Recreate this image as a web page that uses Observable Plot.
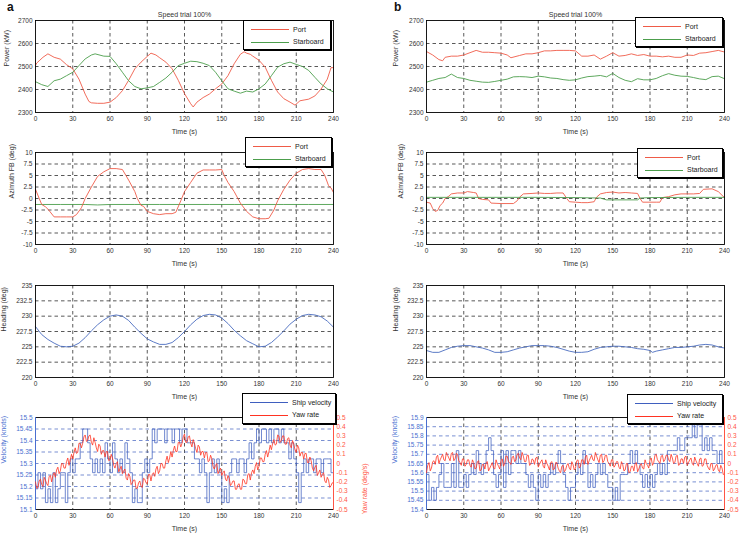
<!DOCTYPE html>
<html><head><meta charset="utf-8">
<script src="https://cdn.jsdelivr.net/npm/d3@7"></script>
<script src="https://cdn.jsdelivr.net/npm/@observablehq/plot@0.6"></script>
<style>
html,body{margin:0;padding:0;background:#fff;overflow:hidden}
#root{position:relative;width:744px;height:539px;overflow:hidden;font-family:"Liberation Sans",Arial,sans-serif;background:#fff}
.leg{position:absolute;border:1px solid #000;box-shadow:1px 1px 0 #000;background:#fff;box-sizing:border-box}
.panelTag{position:absolute;font-weight:bold;font-size:12px;color:#111}
</style></head>
<body><div id="root"></div>
<script>
// ---------- tick values ----------
const timeTicks = [0,30,60,90,120,150,180,210,240];
const powerTicks = [2300,2400,2500,2600,2700];
const azTicks = [-10,-7.5,-5,-2.5,0,2.5,5,7.5,10];
const headTicks = [220,222.5,225,227.5,230,232.5,235];
const velTicksA = [15.1,15.15,15.2,15.25,15.3,15.35,15.4,15.45,15.5];
const velTicksB = [15.4,15.45,15.5,15.55,15.6,15.65,15.7,15.75,15.8,15.85,15.9];
const yawTicks = [-0.5,-0.4,-0.3,-0.2,-0.1,0,0.1,0.2,0.3,0.4,0.5];
const seriesLabels = ["Port","Starboard"];
const velLabels = ["Ship velocity","Yaw rate"];
const titleText = "Speed trial 100%";

// ---------- panel a : power (kW) [time, value] ----------
const powerPortA = [[0,2505],[1,2515],[3,2525],[6,2540],[10,2555],[15,2540],[20,2532],[25,2508],[30,2490],[35,2445],[40,2380],[43,2348],[45,2342],[50,2340],[55,2340],[60,2345],[65,2365],[70,2395],[75,2440],[80,2490],[85,2519],[90,2544],[93,2558],[97,2550],[100,2538],[105,2519],[110,2490],[115,2440],[120,2382],[125,2338],[127,2324],[130,2345],[135,2365],[140,2380],[145,2403],[150,2424],[155,2460],[160,2512],[165,2553],[168,2564],[170,2558],[173,2553],[175,2545],[180,2527],[185,2497],[190,2440],[195,2389],[200,2360],[205,2345],[209,2332],[213,2351],[217,2355],[220,2358],[225,2372],[230,2402],[235,2445],[238,2495],[240,2495]];
const powerStarA = [[0,2434],[5,2421],[10,2413],[15,2438],[20,2445],[25,2460],[30,2475],[35,2504],[40,2533],[45,2550],[48,2555],[55,2545],[60,2544],[65,2512],[70,2475],[75,2438],[80,2413],[85,2403],[90,2407],[95,2413],[100,2431],[105,2450],[110,2475],[115,2504],[120,2514],[125,2523],[130,2521],[135,2514],[140,2504],[145,2475],[150,2438],[155,2403],[160,2393],[165,2384],[170,2393],[175,2389],[180,2403],[185,2424],[190,2460],[195,2497],[200,2512],[205,2519],[210,2509],[215,2500],[220,2483],[225,2453],[230,2424],[235,2403],[240,2389]];
// ---------- panel b : power (kW) ----------
const powerPortB = [[0,2565],[5,2550],[10,2530],[13,2525],[15,2540],[20,2545],[25,2545],[30,2550],[35,2560],[40,2570],[45,2562],[50,2562],[55,2560],[60,2558],[65,2550],[68,2538],[75,2548],[80,2555],[85,2555],[90,2560],[95,2568],[100,2568],[105,2570],[110,2570],[115,2570],[120,2568],[125,2545],[130,2545],[135,2550],[140,2532],[145,2545],[150,2560],[155,2545],[160,2548],[165,2555],[170,2548],[175,2552],[180,2545],[185,2545],[190,2542],[195,2545],[200,2540],[205,2540],[210,2550],[215,2548],[220,2558],[225,2560],[230,2565],[235,2570],[240,2563]];
const powerStarB = [[0,2432],[5,2440],[10,2448],[15,2452],[20,2467],[25,2452],[30,2448],[35,2440],[40,2436],[45,2432],[50,2431],[55,2435],[60,2440],[65,2445],[70,2455],[75,2456],[80,2455],[85,2452],[90,2458],[95,2455],[100,2450],[105,2448],[110,2443],[115,2440],[120,2442],[125,2450],[130,2456],[135,2458],[140,2461],[145,2455],[150,2470],[155,2452],[160,2440],[165,2434],[170,2447],[175,2442],[180,2442],[185,2448],[190,2460],[195,2469],[200,2462],[205,2458],[210,2457],[215,2452],[220,2446],[225,2443],[230,2456],[235,2458],[240,2447]];

// ---------- azimuth FB (deg) ----------
const azPortA = [[0,2],[3,0],[5,-1.3],[8,-1.8],[10,-2.3],[15,-4],[20,-4],[25,-4],[30,-4],[33,-3.5],[37,-2],[40,0],[45,2.5],[50,4.8],[55,5.8],[60,6.5],[65,6.5],[70,6.3],[75,4],[80,1.5],[82,0],[85,-1.5],[87,-1.7],[90,-2.8],[95,-3.3],[100,-3.5],[105,-3.3],[110,-3.3],[113,-3],[117,-0.5],[120,1.5],[125,3.5],[130,5.5],[135,6.2],[140,6.2],[145,6.2],[150,6.3],[152,5],[155,3.5],[160,1.5],[165,-1],[170,-2.8],[175,-4],[180,-4.4],[185,-4.4],[188,-4.3],[192,-2.5],[195,-0.5],[200,2],[205,4],[210,5.5],[215,6.3],[220,6.5],[225,6.3],[230,6.3],[233,5],[236,2.8],[238,2.3],[240,1.3]];
const azStarA = [[0,-1.3],[20,-1.3],[40,-1.3],[50,-1.4],[60,-1.3],[80,-1.3],[100,-1.3],[120,-1.3],[140,-1.3],[160,-1.3],[180,-1.3],[200,-1.3],[220,-1.3],[240,-1.3]];
const azPortB = [[0,-0.8],[3,-1],[5,-2.2],[7,-2.8],[9,-2.6],[11,-1.5],[13,-1],[15,0],[18,0.5],[20,1],[25,1.2],[30,1.2],[33,1.5],[38,1.3],[40,1.2],[42,0],[45,-0.2],[50,-0.3],[52,-1],[60,-1.1],[70,-1.1],[73,-0.5],[75,0.3],[78,1],[85,1.1],[90,1.2],[95,1.1],[100,1.1],[105,1.2],[110,1.2],[113,0],[115,-0.7],[120,-0.8],[125,-0.9],[130,-0.9],[135,-0.7],[137,0.3],[140,1],[145,1.3],[150,1.4],[155,1.2],[160,1.3],[165,1.2],[170,1.1],[172,0],[174,-0.8],[180,-0.8],[185,-0.8],[188,-0.8],[190,0.2],[195,0.4],[200,0.8],[205,1],[210,1],[215,1],[220,1.1],[223,2],[230,2.1],[235,1.5],[238,0.7],[240,0.2]];
const azStarB = [[0,0.25],[30,0.25],[60,0.25],[90,0.25],[120,0.2],[140,0.1],[145,-0.3],[170,-0.3],[172,0.1],[180,0.2],[210,0.25],[240,0.25]];

// ---------- heading (deg) ----------
const headA = [[0,228.3],[5,227],[10,226.2],[15,225.6],[20,225.1],[25,225],[30,225.1],[35,225.6],[40,226.5],[45,227.6],[50,228.6],[55,229.4],[60,230],[65,230.2],[70,230],[75,229.3],[80,228.2],[85,227.2],[90,226.3],[95,225.8],[100,225.4],[105,225.4],[110,225.7],[115,226.5],[120,227.5],[125,228.6],[130,229.5],[135,230.1],[140,230.3],[145,230.2],[150,229.7],[155,228.8],[160,227.7],[165,226.8],[170,226],[175,225.5],[180,225],[185,225.1],[190,225.7],[195,226.6],[200,227.6],[205,228.7],[210,229.5],[215,230.1],[220,230.3],[225,230.2],[230,229.9],[235,229.2],[240,228.2]];
const headB = [[0,224.4],[5,224.1],[10,224.1],[15,224.5],[20,224.9],[25,225.1],[30,225.2],[35,225.2],[40,225],[45,224.8],[50,224.5],[55,224.1],[60,224.1],[65,224.2],[70,224.5],[75,224.8],[80,225],[85,225.2],[90,225.2],[95,225.2],[100,225.1],[105,224.9],[110,224.6],[115,224.3],[120,224.1],[125,224.1],[130,224.2],[135,224.6],[140,224.9],[145,225],[150,225.1],[155,225.1],[160,225],[165,224.9],[170,224.7],[175,224.6],[180,224.4],[182,224.1],[185,224.3],[190,224.5],[195,224.7],[200,224.9],[205,224.9],[210,225],[215,225.1],[220,225.3],[225,225.4],[230,225.3],[235,225],[240,224.8]];

// ---------- velocity (knots), sampled every 2 s ----------
const velA = [15.19,15.26,15.19,15.26,15.13,15.19,15.13,15.26,15.13,15.19,
15.26,15.26,15.13,15.26,15.32,15.26,15.32,15.32,15.39,15.45,
15.45,15.39,15.32,15.26,15.32,15.26,15.32,15.26,15.39,15.32,
15.26,15.39,15.32,15.26,15.32,15.26,15.39,15.32,15.26,15.13,
15.19,15.13,15.13,15.26,15.32,15.26,15.32,15.45,15.39,15.45,
15.45,15.45,15.39,15.45,15.45,15.39,15.45,15.45,15.39,15.45,
15.45,15.39,15.39,15.39,15.32,15.32,15.26,15.32,15.26,15.13,
15.26,15.32,15.26,15.32,15.26,15.13,15.19,15.13,15.26,15.32,
15.32,15.26,15.32,15.32,15.26,15.32,15.39,15.32,15.39,15.45,
15.39,15.45,15.45,15.39,15.45,15.39,15.45,15.45,15.39,15.45,
15.39,15.39,15.32,15.39,15.32,15.26,15.13,15.26,15.32,15.26,
15.32,15.32,15.26,15.32,15.32,15.26,15.32,15.32,15.32,15.26,
15.13];
const velB = [15.59,15.45,15.52,15.45,15.52,15.59,15.65,15.52,15.52,15.52,
15.65,15.52,15.72,15.52,15.52,15.59,15.52,15.59,15.65,15.59,
15.72,15.65,15.59,15.65,15.72,15.79,15.72,15.59,15.52,15.59,
15.72,15.52,15.72,15.59,15.72,15.72,15.65,15.72,15.65,15.65,
15.59,15.52,15.59,15.52,15.45,15.59,15.52,15.59,15.52,15.59,
15.65,15.59,15.65,15.72,15.65,15.59,15.52,15.45,15.52,15.52,
15.59,15.65,15.59,15.72,15.65,15.52,15.59,15.52,15.59,15.65,
15.59,15.65,15.59,15.52,15.52,15.45,15.52,15.45,15.59,15.59,
15.59,15.65,15.72,15.65,15.72,15.65,15.59,15.52,15.59,15.52,
15.59,15.52,15.59,15.65,15.59,15.65,15.59,15.72,15.72,15.72,
15.72,15.79,15.72,15.72,15.79,15.79,15.79,15.86,15.79,15.86,
15.86,15.72,15.79,15.72,15.79,15.72,15.72,15.65,15.72,15.65,
15.79];
// ---------- yaw rate (deg/s), sampled every 1 s ----------
const yawA = [-0.20,-0.27,-0.26,-0.19,-0.17,-0.23,-0.25,-0.15,-0.18,-0.22,-0.24,-0.14,-0.13,-0.20,-0.13,-0.10,-0.15,-0.07,-0.04,-0.11,
-0.08,0.00,0.00,-0.05,-0.05,0.02,0.06,-0.02,0.04,0.10,0.05,0.12,0.17,0.11,0.12,0.22,0.22,0.17,0.22,0.29,
0.31,0.24,0.25,0.30,0.31,0.23,0.20,0.28,0.23,0.17,0.13,0.21,0.19,0.10,0.14,0.14,0.07,0.13,0.13,0.03,
0.04,0.10,0.06,-0.02,-0.05,0.00,0.02,-0.09,-0.06,-0.03,-0.11,-0.08,-0.06,-0.16,-0.18,-0.11,-0.14,-0.23,-0.21,-0.18,
-0.18,-0.27,-0.27,-0.21,-0.19,-0.25,-0.26,-0.16,-0.17,-0.21,-0.22,-0.12,-0.12,-0.19,-0.12,-0.10,-0.14,-0.06,-0.03,-0.11,
-0.08,0.00,0.00,-0.05,-0.05,0.03,0.08,0.01,0.06,0.13,0.07,0.14,0.19,0.13,0.13,0.23,0.23,0.18,0.22,0.29,
0.32,0.23,0.23,0.29,0.30,0.22,0.18,0.26,0.22,0.16,0.12,0.20,0.18,0.09,0.13,0.13,0.06,0.12,0.12,0.02,
0.03,0.09,0.05,-0.03,-0.06,-0.02,0.00,-0.11,-0.08,-0.05,-0.13,-0.10,-0.08,-0.17,-0.19,-0.13,-0.16,-0.24,-0.22,-0.19,
-0.19,-0.28,-0.28,-0.23,-0.22,-0.28,-0.28,-0.17,-0.18,-0.22,-0.22,-0.12,-0.11,-0.18,-0.10,-0.07,-0.11,-0.03,0.01,-0.07,
-0.03,0.06,0.06,0.02,0.02,0.10,0.14,0.07,0.13,0.20,0.15,0.22,0.26,0.20,0.21,0.31,0.30,0.23,0.25,0.30,
0.30,0.21,0.21,0.27,0.28,0.20,0.17,0.25,0.21,0.15,0.12,0.20,0.17,0.08,0.12,0.12,0.05,0.11,0.11,0.01,
0.01,0.07,0.03,-0.05,-0.08,-0.04,-0.02,-0.13,-0.10,-0.07,-0.15,-0.12,-0.10,-0.19,-0.21,-0.15,-0.18,-0.26,-0.24,-0.21,
-0.21];
const yawB = [-0.10,-0.02,0.01,-0.08,-0.05,0.02,0.03,-0.01,0.07,0.09,0.00,0.04,0.07,0.10,0.04,0.03,0.12,0.09,0.06,0.03,
0.11,0.12,0.03,0.05,0.11,0.10,0.03,0.01,-0.02,0.05,0.05,-0.03,-0.01,0.04,0.04,-0.02,-0.04,0.04,0.01,-0.06,
-0.05,0.02,0.03,-0.08,-0.07,-0.01,-0.01,-0.06,0.01,0.02,-0.08,-0.05,-0.02,0.01,-0.05,-0.06,0.04,0.00,-0.03,-0.06,
0.03,0.05,-0.03,0.00,0.08,0.08,0.02,0.01,-0.01,0.07,0.08,0.02,0.04,0.10,0.11,0.06,0.04,0.12,0.08,0.02,
0.02,0.09,0.09,-0.02,-0.01,0.05,0.04,-0.01,0.06,0.07,-0.04,-0.01,0.02,0.04,-0.03,-0.05,0.04,0.00,-0.03,-0.07,
0.01,0.02,-0.07,-0.06,0.01,0.01,-0.05,-0.08,-0.10,-0.03,-0.02,-0.09,-0.07,-0.02,0.00,-0.05,-0.07,0.02,-0.01,-0.07,
-0.05,0.03,0.04,-0.05,-0.03,0.04,0.04,-0.01,0.07,0.09,-0.01,0.03,0.06,0.09,0.04,0.03,0.12,0.08,0.04,0.01,
0.09,0.10,0.01,0.03,0.09,0.09,0.02,0.00,-0.03,0.04,0.04,-0.04,-0.02,0.02,0.02,-0.04,-0.06,0.02,-0.01,-0.08,
-0.07,0.00,0.00,-0.10,-0.09,-0.03,-0.03,-0.08,0.00,0.01,-0.09,-0.06,-0.02,0.00,-0.05,-0.06,0.04,0.00,-0.02,-0.05,
0.04,0.06,-0.02,0.01,0.09,0.10,0.04,0.02,0.00,0.08,0.09,0.02,0.04,0.09,0.09,0.04,0.02,0.10,0.06,0.00,
0.01,0.08,0.09,-0.02,-0.01,0.05,0.05,0.00,0.07,0.08,-0.02,0.01,0.04,0.06,0.00,-0.02,0.07,0.03,0.00,-0.03,
0.05,0.06,-0.03,-0.02,0.05,0.05,-0.02,-0.05,-0.07,0.00,0.00,-0.08,-0.06,-0.02,-0.01,-0.07,-0.09,-0.02,-0.05,-0.12,
-0.11];
const velTimes = d3.range(0, 241, 2);
const yawTimes = d3.range(0, 241, 1);

// ---------- styling ----------
const FONT = "Liberation Sans, Arial, sans-serif";
const C = {port:"#ef5b48", star:"#4c9e4c", head:"#4a6cc0", vel:"#3f5fbf", yaw:"#ff3322",
           velAxis:"#4a6fd0", yawAxis:"#ff5544", ink:"#333", grid:"#111"};
const fmt = d => `${d}`;
const root = document.getElementById("root");
const W = 372, H = 134, MT = 10, MB = 32;
const colA = {left:0, mL:35, mR:39};
const colB = {left:372, mL:54, mR:20};
const rowTop = [10, 142, 275, 407];

function mount(node, left, top) {
  node.style.position = "absolute";
  node.style.left = left + "px";
  node.style.top = top + "px";
  root.appendChild(node);
}
const pairs = arr => arr.map(([t, v]) => ({t, v}));
const zipT = (times, vals) => vals.map((v, i) => ({t: times[i], v}));

function panel(col, row, o) {
  const chart = Plot.plot({
    width: W, height: H, marginTop: MT, marginBottom: MB, marginLeft: col.mL, marginRight: col.mR,
    style: {background: "transparent", fontFamily: FONT, overflow: "visible"},
    x: {domain: [0, 240], axis: null},
    y: {domain: [o.yTicks[0], o.yTicks[o.yTicks.length - 1]], axis: null},
    marks: [
      Plot.ruleX(timeTicks.slice(1, -1), {stroke: C.grid, strokeWidth: 0.7, strokeDasharray: "3.5,3"}),
      Plot.ruleY(o.yTicks.slice(1, -1), {stroke: o.hgrid || C.grid, strokeWidth: 0.7, strokeDasharray: "3.5,3"}),
      ...o.lines,
      Plot.frame({stroke: "#000", strokeWidth: 0.9}),
      ...(o.leftSpine ? [Plot.frame({anchor: "left", stroke: o.leftSpine, strokeWidth: 1})] : []),
      Plot.axisX(timeTicks, {tickSize: 0, tickPadding: 4, fontSize: 6.5, color: C.ink, label: null, tickFormat: fmt}),
      Plot.axisY(o.yTicks, {tickSize: 0, tickPadding: 3, fontSize: 6.5, color: o.yColor || C.ink, label: null, tickFormat: fmt}),
      Plot.text(["Time (s)"], {frameAnchor: "bottom", dy: 21, fontSize: 7, fill: C.ink}),
      Plot.text([o.yLabel], {frameAnchor: "left", dx: o.yLabelDx, rotate: -90, fontSize: 7, fill: o.yColor || C.ink}),
      ...(o.title ? [Plot.text([o.title], {frameAnchor: "top", dy: -8, fontSize: 7, fill: C.ink})] : [])
    ]
  });
  mount(chart, col.left, rowTop[row]);
}

function yawOverlay(col, row, data, showLabel) {
  const chart = Plot.plot({
    width: W, height: H, marginTop: MT, marginBottom: MB, marginLeft: col.mL, marginRight: col.mR,
    style: {background: "transparent", fontFamily: FONT, overflow: "visible"},
    x: {domain: [0, 240], axis: null},
    y: {domain: [-0.5, 0.5], axis: null},
    marks: [
      Plot.line(zipT(yawTimes, data), {x: "t", y: "v", stroke: C.yaw, strokeWidth: 0.8}),
      Plot.frame({anchor: "right", stroke: C.yawAxis, strokeWidth: 1}),
      Plot.axisY(yawTicks, {anchor: "right", tickSize: 0, tickPadding: 3, fontSize: 6.5, color: C.yawAxis, label: null, tickFormat: fmt}),
      ...(showLabel ? [Plot.text(["Yaw rate (deg/s)"], {frameAnchor: "right", dx: 31, rotate: -90, fontSize: 7, fill: C.yawAxis})] : [])
    ]
  });
  mount(chart, col.left, rowTop[row]);
}

function legend(left, top, w, h, labels, colors) {
  const box = document.createElement("div");
  box.className = "leg";
  Object.assign(box.style, {left: left + "px", top: top + "px", width: w + "px", height: h + "px"});
  labels.forEach((lab, i) => {
    const y = 8 + i * 12.5;
    const ln = document.createElement("div");
    Object.assign(ln.style, {position: "absolute", left: "7px", width: "38px", top: y + "px", height: "1px", background: colors[i]});
    const tx = document.createElement("div");
    Object.assign(tx.style, {position: "absolute", left: "49px", top: (y - 4.5) + "px", fontSize: "7px", lineHeight: "10px", color: "#222", whiteSpace: "nowrap"});
    tx.textContent = lab;
    box.appendChild(ln); box.appendChild(tx);
  });
  root.appendChild(box);
}

// ---------- row 1 : power ----------
panel(colA, 0, {yTicks: powerTicks, yLabel: "Power (kW)", yLabelDx: -29, title: titleText, lines: [
  Plot.line(pairs(powerPortA), {x: "t", y: "v", stroke: C.port, strokeWidth: 0.9}),
  Plot.line(pairs(powerStarA), {x: "t", y: "v", stroke: C.star, strokeWidth: 0.9})]});
panel(colB, 0, {yTicks: powerTicks, yLabel: "Power (kW)", yLabelDx: -31, title: titleText, lines: [
  Plot.line(pairs(powerPortB), {x: "t", y: "v", stroke: C.port, strokeWidth: 0.9}),
  Plot.line(pairs(powerStarB), {x: "t", y: "v", stroke: C.star, strokeWidth: 0.9})]});
// ---------- row 2 : azimuth ----------
panel(colA, 1, {yTicks: azTicks, yLabel: "Azimuth FB (deg)", yLabelDx: -24, lines: [
  Plot.line(pairs(azStarA), {x: "t", y: "v", stroke: C.star, strokeWidth: 0.9}),
  Plot.line(pairs(azPortA), {x: "t", y: "v", stroke: C.port, strokeWidth: 0.9})]});
panel(colB, 1, {yTicks: azTicks, yLabel: "Azimuth FB (deg)", yLabelDx: -26, lines: [
  Plot.line(pairs(azPortB), {x: "t", y: "v", stroke: C.port, strokeWidth: 0.9}),
  Plot.line(pairs(azStarB), {x: "t", y: "v", stroke: C.star, strokeWidth: 0.9})]});
// ---------- row 3 : heading ----------
panel(colA, 2, {yTicks: headTicks, yLabel: "Heading (deg)", yLabelDx: -32, lines: [
  Plot.line(pairs(headA), {x: "t", y: "v", stroke: C.head, strokeWidth: 0.9})]});
panel(colB, 2, {yTicks: headTicks, yLabel: "Heading (deg)", yLabelDx: -31, lines: [
  Plot.line(pairs(headB), {x: "t", y: "v", stroke: C.head, strokeWidth: 0.9})]});
// ---------- row 4 : velocity & yaw rate ----------
panel(colA, 3, {yTicks: velTicksA, yLabel: "Velocity (knots)", yLabelDx: -32, yColor: C.velAxis, hgrid: C.vel, leftSpine: C.velAxis, lines: [
  Plot.line(zipT(velTimes, velA), {x: "t", y: "v", stroke: C.vel, strokeWidth: 0.75, curve: "step-after"})]});
yawOverlay(colA, 3, yawA, true);
panel(colB, 3, {yTicks: velTicksB, yLabel: "Velocity (knots)", yLabelDx: -32, yColor: C.velAxis, hgrid: C.vel, leftSpine: C.velAxis, lines: [
  Plot.line(zipT(velTimes, velB), {x: "t", y: "v", stroke: C.vel, strokeWidth: 0.75, curve: "step-after"})]});
yawOverlay(colB, 3, yawB, false);

// ---------- legends ----------
legend(243, 20, 88, 30, seriesLabels, [C.port, C.star]);
legend(635, 17, 88, 30, seriesLabels, [C.port, C.star]);
legend(245, 137, 87, 30, seriesLabels, [C.port, C.star]);
legend(637, 148, 86, 30, seriesLabels, [C.port, C.star]);
legend(242, 393, 94, 31, velLabels, [C.vel, C.yaw]);
legend(627, 394, 96, 30, velLabels, [C.vel, C.yaw]);

// ---------- panel tags ----------
for (const [tag, x] of [["a", 7], ["b", 394]]) {
  const d = document.createElement("div");
  d.className = "panelTag";
  d.style.left = x + "px"; d.style.top = "0px";
  d.textContent = tag;
  root.appendChild(d);
}
</script>
</body></html>
